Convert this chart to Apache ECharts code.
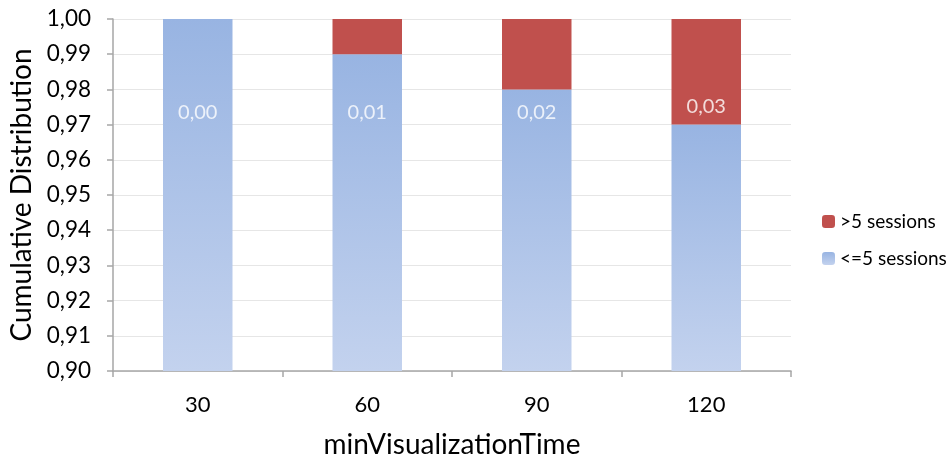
<!DOCTYPE html>
<html>
<head>
<meta charset="utf-8">
<script src="https://cdn.jsdelivr.net/npm/echarts@6/dist/echarts.min.js"></script>
<style>html,body{margin:0;padding:0;background:#fff}#c{width:950px;height:457px}</style>
</head>
<body>
<div id="c"></div>
<script>
const categories = ['30', '60', '90', '120'];
const lowSessions = [1.00, 0.99, 0.98, 0.97];   // <=5 sessions
const highSessions = [0.00, 0.01, 0.02, 0.03];  // >5 sessions
const labelLevels = [0.9733, 0.9733, 0.9733, 0.975];

const fmt = v => Number(v).toFixed(2).replace('.', ',');
const FONT = 'Lato';

const chart = echarts.init(document.getElementById('c'), null, {renderer: 'canvas'});
chart.setOption({
  animation: false,
  textStyle: {fontFamily: FONT},
  grid: {left: 113, top: 19, right: 159, bottom: 86, outerBoundsMode: 'none', containLabel: false},
  legend: {
    orient: 'vertical', left: 817, top: 207,
    itemWidth: 13, itemHeight: 13, itemGap: 18,
    textStyle: {fontSize: 19, color: '#000', fontFamily: FONT},
    data: ['>5 sessions', '<=5 sessions']
  },
  xAxis: {
    type: 'category', data: categories,
    axisLine: {lineStyle: {color: '#a6a6a6', width: 1.5}},
    axisTick: {show: true, length: 6, lineStyle: {color: '#a6a6a6', width: 1.5}},
    axisLabel: {fontSize: 22, color: '#000', margin: 23},
    name: 'minVisualizationTime', nameLocation: 'middle', nameGap: 60,
    nameTextStyle: {fontSize: 28, color: '#000'}
  },
  yAxis: {
    type: 'value', min: 0.90, max: 1.00, interval: 0.01,
    axisLine: {show: true, lineStyle: {color: '#a6a6a6', width: 1.5}},
    axisTick: {show: true, length: 6, lineStyle: {color: '#a6a6a6', width: 1.5}},
    axisLabel: {fontSize: 22.5, color: '#000', margin: 22, formatter: fmt},
    splitLine: {lineStyle: {color: '#e6e6e6', width: 1}},
    name: 'Cumulative Distribution', nameLocation: 'middle', nameGap: 77,
    nameTextStyle: {fontSize: 28, color: '#000'}
  },
  series: [
    {
      name: '<=5 sessions', type: 'bar', stack: 'a', data: lowSessions, barWidth: '41%',
      itemStyle: {color: new echarts.graphic.LinearGradient(0, 0, 0, 1, [
        {offset: 0, color: '#98b4e2'}, {offset: 1, color: '#c3d2ee'}])}
    },
    {
      name: '>5 sessions', type: 'bar', stack: 'a', data: highSessions, barWidth: '41%',
      itemStyle: {color: '#c0504d'}
    },
    {
      name: 'labels', type: 'scatter', data: labelLevels, symbolSize: 0, z: 10,
      silent: true,
      label: {show: true, position: 'inside', color: '#fff', fontSize: 20,
        formatter: p => fmt(highSessions[p.dataIndex])}
    }
  ]
});
</script>
</body>
</html>
